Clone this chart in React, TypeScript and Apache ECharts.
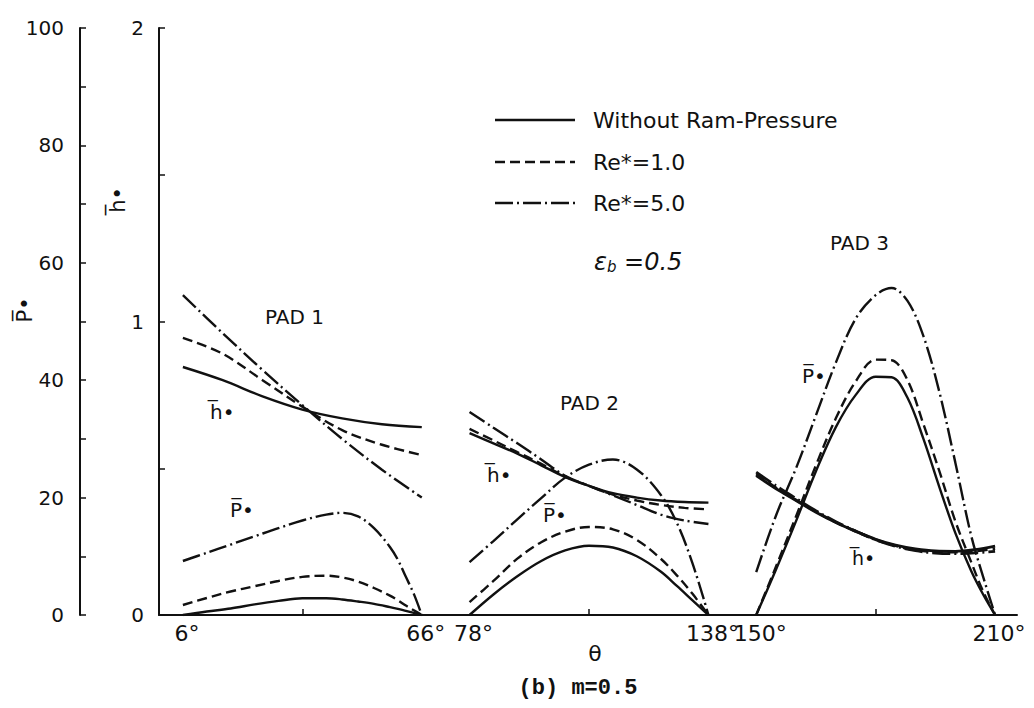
import React, { useEffect, useRef } from 'react';
import * as echarts from 'echarts';

const FONT = '"DejaVu Sans", "Liberation Sans", sans-serif';
const INK = '#111';
const BAR = '\u0305'; // combining overline for P̅ and h̅

// Circumferential stations θ (deg) for each pad
const pad1PTheta = [6, 12, 18, 24, 30, 36, 42, 46, 50, 54, 58, 60, 62, 64, 66];
const pad1HTheta = [6, 16, 26, 36, 46, 56, 66];
const pad2PTheta = [78, 84, 90, 96, 102, 108, 114, 120, 126, 130, 134, 138];
const pad2HTheta = [78, 84, 90, 96, 102, 108, 114, 120, 126, 132, 138];
const pad3PTheta = [150, 155, 160, 165, 170, 175, 180, 184, 188, 192, 196, 200, 204, 207, 210];
const pad3HTheta = [150, 155, 160, 165, 170, 175, 180, 185, 190, 195, 200, 205, 210];

// Pad 1 — dimensionless pressure P and film thickness h
const pad1PNoRam = [0, 0.6, 1.1, 1.8, 2.4, 2.85, 2.85, 2.65, 2.3, 1.9, 1.35, 1.05, 0.7, 0.35, 0];
const pad1PRe1 = [1.7, 2.9, 4.0, 4.9, 5.8, 6.5, 6.7, 6.4, 5.7, 4.6, 3.3, 2.5, 1.6, 0.8, 0];
const pad1PRe5 = [9.2, 10.6, 12.0, 13.4, 14.8, 16.1, 17.1, 17.4, 16.8, 14.8, 11.6, 9.4, 6.5, 3.6, 0];
const pad1HNoRam = [0.845, 0.8, 0.745, 0.7, 0.67, 0.65, 0.64];
const pad1HRe1 = [0.944, 0.89, 0.8, 0.71, 0.63, 0.58, 0.545];
const pad1HRe5 = [1.09, 0.96, 0.835, 0.715, 0.6, 0.495, 0.4];

// Pad 2
const pad2PNoRam = [0, 3.5, 6.6, 9.2, 11.0, 11.8, 11.5, 10.0, 7.4, 5.0, 2.5, 0];
const pad2PRe1 = [2.2, 5.8, 9.6, 12.4, 14.2, 15.0, 14.6, 12.8, 9.6, 6.8, 3.6, 0];
const pad2PRe5 = [9.0, 12.6, 16.3, 19.9, 23.4, 25.6, 26.5, 24.8, 20.5, 15.8, 8.8, 0];
const pad2HNoRam = [0.62, 0.585, 0.55, 0.51, 0.47, 0.44, 0.415, 0.4, 0.39, 0.385, 0.383];
const pad2HRe1 = [0.634, 0.595, 0.555, 0.515, 0.472, 0.44, 0.41, 0.39, 0.375, 0.365, 0.36];
const pad2HRe5 = [0.692, 0.638, 0.585, 0.53, 0.474, 0.44, 0.408, 0.375, 0.342, 0.322, 0.31];

// Pad 3
const pad3PNoRam = [0, 7.8, 16, 24.5, 32, 37.5, 40.6, 40.5, 37, 30, 21.8, 14, 7.5, 3.5, 0];
const pad3PRe1 = [0, 8.3, 16.8, 25.5, 33.5, 39.8, 43.5, 43.4, 40, 32.5, 24.5, 16, 9, 4, 0];
const pad3PRe5 = [7.3, 17, 25, 34, 43, 50.5, 54.5, 55.7, 53.5, 47.5, 38, 26, 13.5, 6.5, 0];
const pad3HNoRam = [0.475, 0.43, 0.39, 0.35, 0.315, 0.285, 0.258, 0.238, 0.225, 0.218, 0.217, 0.223, 0.235];
const pad3HRe1 = [0.48, 0.433, 0.392, 0.352, 0.316, 0.285, 0.257, 0.236, 0.222, 0.215, 0.214, 0.218, 0.226];
const pad3HRe5 = [0.487, 0.44, 0.397, 0.355, 0.318, 0.286, 0.256, 0.234, 0.219, 0.211, 0.209, 0.212, 0.217];

// Axis ticks and labels
const xLabelValues = [6, 66, 78, 138, 150, 210];
const xMidTicks = [36, 108, 180];
const pLabelStep = 20;

const caseNames = ['Without Ram-Pressure', 'Re*=1.0', 'Re*=5.0'];
const caseDash: (number[] | 'solid')[] = ['solid', [10, 5], [18, 4, 2, 4]];

const pads = [
  { pTheta: pad1PTheta, p: [pad1PNoRam, pad1PRe1, pad1PRe5], hTheta: pad1HTheta, h: [pad1HNoRam, pad1HRe1, pad1HRe5] },
  { pTheta: pad2PTheta, p: [pad2PNoRam, pad2PRe1, pad2PRe5], hTheta: pad2HTheta, h: [pad2HNoRam, pad2HRe1, pad2HRe5] },
  { pTheta: pad3PTheta, p: [pad3PNoRam, pad3PRe1, pad3PRe5], hTheta: pad3HTheta, h: [pad3HNoRam, pad3HRe1, pad3HRe5] },
];

function buildSeries() {
  const out: any[] = [];
  pads.forEach((pad, k) => {
    for (let c = 0; c < 3; c++) {
      const lineStyle = { color: INK, width: 2.4, type: caseDash[c], cap: 'butt' };
      out.push({
        type: 'line',
        name: `${caseNames[c]} P pad${k + 1}`,
        yAxisIndex: 0,
        data: pad.pTheta.map((t, i) => [t, pad.p[c][i]]),
        symbol: 'none',
        smooth: 0.35,
        silent: true,
        lineStyle,
      });
      out.push({
        type: 'line',
        name: `${caseNames[c]} h pad${k + 1}`,
        yAxisIndex: 1,
        data: pad.hTheta.map((t, i) => [t, pad.h[c][i]]),
        symbol: 'none',
        smooth: 0.35,
        silent: true,
        lineStyle: { ...lineStyle, width: k === 2 ? 2.8 : 2.4 },
      });
    }
  });
  return out;
}

function txt(text: string, x: number, y: number, extra: any = {}) {
  return {
    type: 'text',
    x,
    y,
    silent: true,
    ...(extra.rotation !== undefined ? { rotation: extra.rotation } : {}),
    style: {
      text,
      fill: INK,
      fontFamily: FONT,
      fontSize: 20,
      align: 'left',
      verticalAlign: 'middle',
      ...(extra.style || {}),
    },
  };
}

function legendLine(y: number, dash: number[] | 'solid') {
  return {
    type: 'line',
    silent: true,
    shape: { x1: 495, y1: y, x2: 575, y2: y },
    style: { stroke: INK, lineWidth: 2.4, lineDash: dash === 'solid' ? null : dash },
  };
}

const legendY = [120, 162, 203];
const pLabel = `P${BAR}•`;
const hLabel = `h${BAR}•`;

export default function App() {
  const ref = useRef<HTMLDivElement>(null);

  useEffect(() => {
    if (!ref.current) return;
    const chart = echarts.init(ref.current, null, { renderer: 'svg' });
    const axisLine = { show: true, onZero: false, lineStyle: { color: INK, width: 2 } };
    chart.setOption({
      animation: false,
      backgroundColor: '#fff',
      grid: { left: 159, right: 17, top: 28, bottom: 93, containLabel: false },
      xAxis: {
        type: 'value',
        min: 0,
        max: 215.5,
        axisLine,
        axisTick: { show: true, inside: true, length: 6, customValues: xMidTicks, lineStyle: { color: INK, width: 1.5 } },
        axisLabel: {
          customValues: xLabelValues,
          formatter: (v: number) => `${v}°`,
          fontSize: 22,
          fontFamily: FONT,
          color: INK,
          margin: 7,
          padding: [0, 0, 0, 8],
        },
        splitLine: { show: false },
      },
      yAxis: [
        {
          type: 'value',
          min: 0,
          max: 100,
          interval: 10,
          position: 'left',
          offset: 79,
          axisLine,
          axisTick: { show: true, inside: true, length: 6, lineStyle: { color: INK, width: 1.5 } },
          axisLabel: {
            formatter: (v: number) => (v % pLabelStep === 0 ? String(v) : ''),
            fontSize: 20,
            fontFamily: FONT,
            color: INK,
            margin: 16,
          },
          splitLine: { show: false },
        },
        {
          type: 'value',
          min: 0,
          max: 2,
          interval: 0.5,
          position: 'left',
          offset: 0,
          axisLine,
          axisTick: { show: true, inside: true, length: 6, lineStyle: { color: INK, width: 1.5 } },
          axisLabel: {
            formatter: (v: number) => (Number.isInteger(v) ? String(v) : ''),
            fontSize: 20,
            fontFamily: FONT,
            color: INK,
            margin: 15,
          },
          splitLine: { show: false },
        },
      ],
      series: buildSeries(),
      graphic: [
        // axis titles
        txt(pLabel, 25, 310, { rotation: Math.PI / 2, style: { align: 'center', fontSize: 21 } }),
        txt(hLabel, 118, 200, { rotation: Math.PI / 2, style: { align: 'center', fontSize: 21 } }),
        txt('θ', 595, 653, { style: { align: 'center', fontSize: 22 } }),
        // legend
        legendLine(legendY[0], caseDash[0]),
        legendLine(legendY[1], caseDash[1]),
        legendLine(legendY[2], caseDash[2]),
        txt(caseNames[0], 593, legendY[0], { style: { fontSize: 22 } }),
        txt(caseNames[1], 593, legendY[1], { style: { fontSize: 22 } }),
        txt(caseNames[2], 593, legendY[2], { style: { fontSize: 22 } }),
        {
          type: 'text',
          x: 594,
          y: 262,
          silent: true,
          style: {
            text: '{e|ε}{s|b}{e| =0.5}',
            fill: INK,
            verticalAlign: 'middle',
            rich: {
              e: { fontFamily: FONT, fontSize: 24, fontStyle: 'italic', fill: INK },
              s: { fontFamily: FONT, fontSize: 15, fontStyle: 'italic', fill: INK, verticalAlign: 'bottom', padding: [8, 0, 0, 0] },
            },
          },
        },
        // pad labels
        txt('PAD 1', 265, 317),
        txt('PAD 2', 560, 403),
        txt('PAD 3', 830, 243),
        // curve family labels
        txt(hLabel, 210, 412),
        txt(pLabel, 230, 510),
        txt(hLabel, 487, 475),
        txt(pLabel, 543, 515),
        txt(pLabel, 802, 376),
        txt(hLabel, 852, 558, { style: { fontSize: 19 } }),
        // caption
        txt('(b) m=0.5', 578, 688, {
          style: { align: 'center', fontFamily: '"Liberation Mono", monospace', fontSize: 22, fontWeight: 'bold' },
        }),
      ],
    });
    return () => chart.dispose();
  }, []);

  return (
    <div
      ref={ref}
      style={{ position: 'fixed', left: 0, top: 0, width: 1034, height: 708, background: '#fff' }}
    />
  );
}
